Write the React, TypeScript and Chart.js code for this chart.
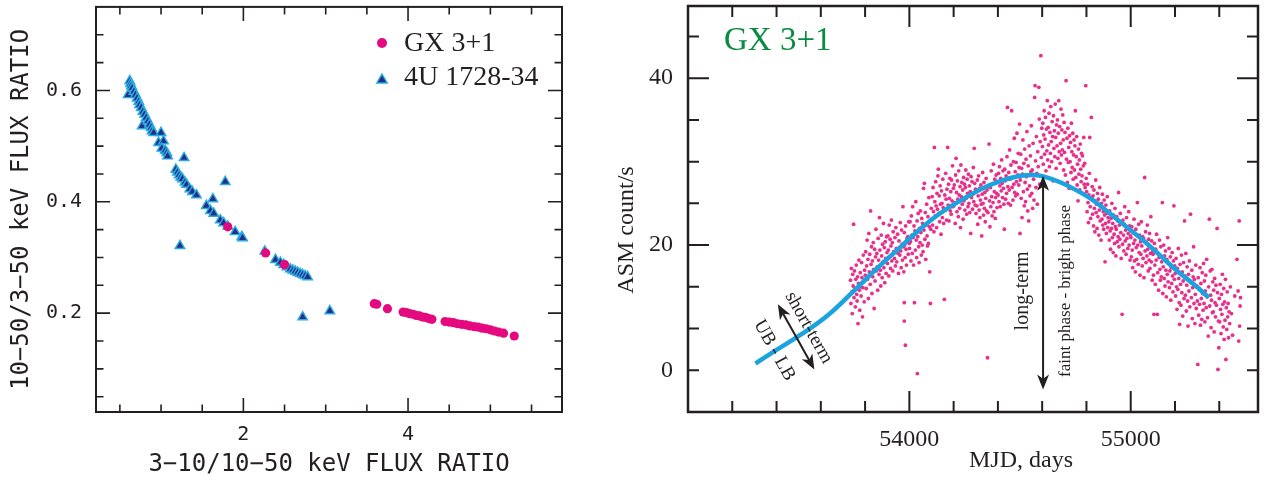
import React, { useEffect, useRef } from 'react';
import { Chart, registerables } from 'chart.js';

Chart.register(...registerables);

const INK = '#231f20';
const MONO = '"DejaVu Sans Mono", "Liberation Mono", monospace';
const SERIF = '"Liberation Serif", "DejaVu Serif", serif';
const GX_PINK = '#e5097f';
const NAVY = '#262f87';
const CYAN = '#29abe2';
const ASM_PINK = '#e8308a';
const TREND_BLUE = '#1ba3df';
const TITLE_GREEN = '#0b8a42';

// ---------------- Left panel: colour-colour ratios ----------------
const gx31Ratios: [number, number][] = [
  [1.81, 0.355], [2.27, 0.308], [2.5, 0.287], [3.59, 0.217], [3.62, 0.216], [3.75, 0.208],
  [3.94, 0.202], [3.98, 0.201], [4.02, 0.199], [4.06, 0.198], [4.1, 0.196], [4.14, 0.195],
  [4.18, 0.193], [4.22, 0.192], [4.26, 0.19], [4.29, 0.189], [4.45, 0.185], [4.5, 0.184],
  [4.55, 0.183], [4.6, 0.181], [4.65, 0.18], [4.7, 0.179], [4.75, 0.177], [4.8, 0.176],
  [4.85, 0.175], [4.9, 0.173], [4.95, 0.172], [5.0, 0.17], [5.05, 0.168], [5.1, 0.166],
  [5.16, 0.164], [5.29, 0.159],
];

const u1728Ratios: [number, number][] = [
  [0.6, 0.592], [0.62, 0.617], [0.63, 0.612], [0.64, 0.608], [0.65, 0.604], [0.67, 0.598],
  [0.69, 0.592], [0.71, 0.586], [0.73, 0.58], [0.74, 0.574], [0.76, 0.569], [0.78, 0.562],
  [0.8, 0.557], [0.77, 0.536], [0.82, 0.551], [0.84, 0.545], [0.86, 0.539], [0.88, 0.533],
  [0.89, 0.527], [0.91, 0.524], [1.0, 0.524], [0.97, 0.506], [1.03, 0.509], [1.01, 0.496],
  [1.05, 0.492], [1.07, 0.488], [1.08, 0.482], [1.28, 0.479], [1.18, 0.458], [1.2, 0.453],
  [1.22, 0.448], [1.24, 0.444], [1.26, 0.441], [1.29, 0.435], [1.31, 0.431], [1.35, 0.423],
  [1.38, 0.418], [1.43, 0.412], [1.78, 0.436], [1.63, 0.405], [1.55, 0.393], [1.6, 0.384],
  [1.64, 0.379], [1.72, 0.367], [1.76, 0.362], [1.81, 0.356], [1.9, 0.346], [1.98, 0.337],
  [1.99, 0.335], [1.23, 0.321], [2.26, 0.311], [2.39, 0.296], [2.45, 0.291], [2.49, 0.287],
  [2.53, 0.283], [2.57, 0.279], [2.6, 0.277], [2.63, 0.275], [2.66, 0.273], [2.69, 0.271],
  [2.72, 0.269], [2.75, 0.267], [2.78, 0.265], [2.72, 0.193], [3.05, 0.204],
];

const leftLegend = ['GX 3+1', '4U 1728-34'];
const leftXTitle = '3\u221210/10\u221250 keV FLUX RATIO';
const leftYTitle = '10\u221250/3\u221250 keV FLUX RATIO';
const leftXTickValues = [2, 4];
const leftXTickText = ['2', '4'];
const leftYTickValues = [0.2, 0.4, 0.6];
const leftYTickText = ['0.2', '0.4', '0.6'];
const leftXMarks = [0.5, 1, 1.5, 2, 2.5, 3, 3.5, 4, 4.5, 5, 5.5];
const leftXMajor = [2, 4];
const leftYMarks = [0.05, 0.1, 0.15, 0.2, 0.25, 0.3, 0.35, 0.4, 0.45, 0.5, 0.55, 0.6, 0.65, 0.7];
const leftYMajor = [0.2, 0.4, 0.6];

// ---------------- Right panel: RXTE/ASM light curve ----------------
const asmRise: [number, number][] = [
  [53734, 15.8], [53736, 13.0], [53738, 17.2], [53740, 14.4], [53742, 11.8], [53744, 16.5], [53746, 15.1], [53748, 22.5],
  [53750, 13.7], [53752, 16.9], [53754, 14.8], [53756, 12.6], [53758, 15.9], [53760, 17.6], [53762, 14.1], [53764, 13.3],
  [53766, 16.2], [53768, 10.6], [53770, 15.4], [53772, 18.2], [53774, 14.6], [53776, 12.2], [53778, 16.7], [53780, 15.0],
  [53782, 13.9], [53784, 17.9], [53786, 16.1], [53788, 11.4], [53790, 14.9], [53792, 18.8], [53794, 15.6], [53796, 13.2],
  [53798, 17.0],
  [53801, 16.4], [53803, 19.2], [53805, 14.8], [53807, 17.5], [53809, 20.6], [53811, 15.9], [53813, 18.3], [53815, 13.6],
  [53817, 21.4], [53819, 16.8], [53821, 18.9], [53823, 15.3], [53825, 24.1], [53827, 17.7], [53829, 19.8], [53831, 14.2],
  [53833, 18.1], [53835, 16.2], [53837, 20.3], [53839, 17.1], [53841, 12.4], [53843, 19.5], [53845, 15.7], [53847, 18.6],
  [53849, 21.9], [53851, 16.9], [53853, 19.0], [53855, 17.4], [53857, 14.6], [53859, 20.8], [53861, 18.2], [53863, 16.5],
  [53865, 23.3], [53867, 19.4], [53869, 17.0], [53871, 15.1], [53873, 21.2], [53875, 18.7], [53877, 16.1], [53879, 20.1],
  [53881, 18.0], [53883, 22.6], [53885, 17.3], [53887, 19.7], [53889, 15.5], [53891, 20.4], [53893, 18.4], [53895, 16.6],
  [53897, 21.0], [53899, 19.1],
  [53901, 17.8], [53903, 21.1], [53905, 19.4], [53907, 16.3], [53909, 22.4], [53911, 18.6], [53913, 20.7], [53915, 17.2],
  [53917, 19.9], [53919, 23.0], [53921, 18.1], [53923, 20.3], [53925, 16.9], [53927, 21.6], [53929, 19.2], [53977, 13.1],
  [53933, 18.4], [53935, 20.9], [53937, 17.5], [53939, 22.1], [53941, 19.6], [53943, 18.0], [53977, 10.9], [53947, 21.3],
  [53949, 19.0], [53951, 16.6], [53953, 20.5], [53982, 8.0], [53957, 18.8], [53959, 22.7], [53961, 19.3], [53963, 17.3],
  [53965, 21.8], [53967, 20.1], [53969, 18.2], [53971, 24.6], [53973, 19.8], [53975, 16.8], [53977, 21.5], [53979, 20.0],
  [53981, 18.5], [53983, 22.3], [53985, 19.5], [53987, 17.6], [53989, 20.8], [53993, 21.0], [53995, 18.9], [53997, 22.8],
  [53999, 20.2],
  [54001, 19.6], [54003, 22.8], [54005, 20.4], [54007, 18.1], [54009, 23.5], [54011, 21.2], [54013, 19.0], [54015, 24.6],
  [54017, 20.9], [54019, 17.6], [54021, 22.3], [54023, 13.1], [54025, 21.7], [54027, 19.4], [54029, 25.2], [54031, 20.6],
  [54033, 18.5], [54035, 22.9], [54036, 4.6], [54038, 21.0], [54040, 23.8], [54042, 19.8], [54044, 17.9], [54046, 22.0],
  [54048, 20.3], [54050, 24.1], [54052, 21.5], [54054, 18.8], [54056, 23.2], [54058, 20.0], [54060, 22.6], [54062, 19.2],
  [54064, 26.8], [54066, 21.8], [54068, 27.4], [54070, 20.7], [54072, 23.9], [54074, 18.3], [54076, 22.4], [54078, 24.9],
  [54080, 21.1], [54082, 19.9], [54084, 23.4], [54086, 20.2], [54088, 25.7], [54090, 22.2], [54092, 16.8], [54095, 13.0],
  [54097, 21.9], [54099, 24.4],
  [54101, 23.1], [54103, 25.8], [54105, 22.4], [54107, 26.9], [54109, 24.0], [54111, 21.6], [54113, 31.7], [54115, 25.2],
  [54117, 23.5], [54119, 27.6], [54121, 24.7], [54123, 22.1], [54125, 26.2], [54127, 24.3], [54129, 28.3], [54131, 29.1],
  [54133, 23.8], [54135, 25.9], [54137, 22.8], [54139, 27.1], [54141, 24.9], [54143, 21.3], [54145, 26.5], [54147, 25.0],
  [54149, 23.3], [54151, 27.9], [54153, 24.5], [54155, 22.6], [54158, 13.5], [54160, 26.0], [54162, 24.2], [54164, 28.6],
  [54166, 25.5], [54168, 23.0], [54170, 26.7], [54173, 31.7], [54175, 24.8], [54177, 27.3], [54179, 22.9], [54181, 25.6],
  [54183, 28.0], [54185, 24.1], [54187, 26.4], [54189, 23.7], [54191, 27.8], [54193, 25.3], [54195, 29.5], [54197, 24.6],
  [54199, 26.8],
];

const asmPeak: [number, number][] = [
  [54201, 24.7], [54203, 27.2], [54205, 25.1], [54207, 22.6], [54209, 28.4], [54211, 30.4], [54213, 26.3], [54215, 24.0],
  [54217, 27.7], [54219, 25.5], [54221, 23.4], [54223, 28.9], [54225, 26.0], [54227, 24.4], [54229, 27.0], [54231, 22.1],
  [54233, 29.6], [54235, 25.8], [54237, 27.5], [54239, 24.9], [54241, 26.6], [54243, 23.1], [54245, 28.1], [54247, 25.3],
  [54249, 27.3], [54251, 24.2], [54253, 26.9], [54255, 29.0], [54257, 25.6], [54259, 23.7], [54261, 27.9], [54263, 26.2],
  [54265, 24.6], [54267, 28.5], [54269, 25.0], [54271, 27.1], [54273, 23.9], [54275, 26.4], [54277, 21.4], [54279, 28.2],
  [54281, 25.7], [54283, 27.6], [54285, 24.3], [54287, 26.1], [54289, 29.3], [54291, 25.2], [54293, 31.6], [54295, 27.4],
  [54297, 24.8], [54299, 26.7],
  [54301, 23.8], [54303, 26.5], [54305, 24.7], [54307, 27.8], [54309, 22.5], [54311, 25.9], [54313, 28.3], [54315, 24.2],
  [54317, 26.8], [54319, 23.3], [54321, 25.4], [54323, 27.2], [54325, 24.9], [54327, 21.1], [54329, 26.1], [54331, 28.7],
  [54333, 25.0], [54335, 23.6], [54337, 27.5], [54339, 24.4], [54341, 26.3], [54343, 22.8], [54345, 25.6], [54347, 28.0],
  [54349, 24.1], [54351, 26.6], [54353, 6.5], [54355, 23.9], [54357, 27.0], [54360, 32.1], [54362, 25.3], [54364, 22.2],
  [54366, 26.9], [54368, 24.6], [54370, 28.9], [54372, 25.8], [54374, 23.5], [54376, 27.3], [54378, 25.1], [54380, 29.7],
  [54382, 24.0], [54384, 26.4], [54386, 27.9], [54388, 23.2], [54390, 25.7], [54392, 28.4], [54394, 26.2], [54396, 24.5],
  [54398, 27.6],
  [54401, 26.0], [54403, 28.6], [54405, 25.2], [54407, 29.4], [54409, 27.1], [54411, 24.6], [54413, 28.0], [54415, 26.5],
  [54417, 30.2], [54419, 27.4], [54421, 25.7], [54423, 28.9], [54425, 26.8], [54427, 24.9], [54429, 21.9], [54431, 29.1],
  [54433, 27.7], [54435, 25.5], [54437, 28.3], [54439, 26.2], [54441, 30.6], [54443, 36.5], [54445, 27.0], [54447, 25.0],
  [54449, 28.7], [54451, 26.6], [54453, 31.4], [54455, 27.9], [54457, 24.8], [54459, 29.6], [54462, 36.1], [54464, 26.9],
  [54466, 28.1], [54468, 25.4], [54470, 30.0], [54472, 27.3], [54474, 32.8], [54476, 26.3], [54478, 28.8], [54480, 25.9],
  [54482, 29.9], [54484, 27.6], [54486, 33.4], [54488, 26.1], [54490, 28.4], [54492, 31.0], [54494, 27.2], [54496, 29.3],
  [54498, 34.5], [54500, 21.4],
  [54501, 27.8], [54503, 30.9], [54505, 25.6], [54507, 29.2], [54509, 23.3], [54511, 28.5], [54513, 32.6], [54515, 26.4],
  [54517, 29.8], [54519, 24.7], [54521, 31.5], [54523, 27.5], [54525, 25.2], [54527, 30.3], [54529, 28.2], [54531, 33.6],
  [54533, 26.7], [54535, 24.1], [54537, 29.5], [54539, 22.9], [54541, 31.9], [54543, 27.1], [54545, 25.9], [54547, 30.7],
  [54549, 28.8], [54551, 34.3], [54553, 26.2], [54555, 29.0], [54557, 24.4], [54559, 32.2], [54561, 27.9], [54563, 25.4],
  [54566, 37.7], [54568, 39.1], [54570, 30.1], [54572, 26.9], [54574, 33.0], [54576, 28.6], [54578, 24.9], [54580, 31.2],
  [54582, 29.4], [54585, 38.9], [54587, 35.1], [54589, 27.3], [54591, 32.4], [54594, 42.7], [54596, 30.5], [54598, 34.0],
  [54601, 31.8], [54603, 34.6], [54605, 29.7], [54607, 33.2], [54609, 36.1], [54611, 30.9], [54613, 32.7], [54615, 35.3],
  [54617, 28.9], [54619, 33.9], [54621, 31.3], [54623, 37.3], [54625, 30.2], [54627, 34.1], [54629, 32.0], [54631, 35.8],
  [54633, 29.4], [54635, 33.5], [54637, 31.0], [54639, 36.6], [54641, 32.4], [54643, 30.0], [54645, 34.8], [54647, 33.0],
  [54649, 27.7], [54651, 35.5], [54653, 31.6], [54655, 33.7], [54657, 30.6], [54659, 36.9], [54661, 32.9], [54663, 29.2],
  [54665, 34.4], [54667, 31.9], [54669, 35.0], [54671, 30.4], [54673, 33.4], [54675, 37.3], [54677, 31.2], [54679, 34.2],
  [54681, 29.8], [54683, 32.2], [54685, 36.3], [54687, 30.8], [54689, 33.8], [54691, 31.4], [54693, 35.6], [54695, 32.6],
  [54697, 29.0], [54699, 34.7],
  [54701, 31.1], [54703, 33.5], [54705, 28.4], [54708, 39.7], [54710, 30.3], [54712, 32.8], [54714, 27.5], [54716, 34.0],
  [54718, 29.9], [54720, 31.7], [54722, 26.8], [54724, 33.1], [54726, 30.0], [54728, 32.3], [54730, 28.7], [54732, 34.6],
  [54734, 31.2], [54736, 29.3], [54738, 33.4], [54740, 27.9], [54742, 30.8], [54744, 32.6], [54746, 29.0], [54748, 31.9],
  [54750, 36.1], [54752, 28.1], [54754, 30.6], [54756, 33.0], [54758, 27.2], [54760, 29.7], [54762, 25.3], [54764, 31.5],
  [54766, 28.5], [54768, 30.2], [54770, 26.6], [54772, 32.1], [54774, 29.1], [54776, 27.6], [54778, 31.0], [54780, 28.3],
  [54782, 30.7], [54784, 26.2], [54786, 29.5], [54788, 32.9], [54790, 27.3], [54792, 29.8], [54794, 26.9], [54797, 39.1],
  [54799, 28.0],
];

const asmDecline: [number, number][] = [
  [54801, 26.4], [54803, 24.0], [54805, 27.3], [54807, 25.1], [54809, 22.7], [54811, 26.0], [54813, 28.6], [54815, 32.9],
  [54817, 24.6], [54819, 23.2], [54822, 35.3], [54824, 25.7], [54826, 27.0], [54828, 23.7], [54830, 25.9], [54832, 22.3],
  [54834, 26.6], [54836, 24.4], [54838, 21.6], [54840, 25.3], [54842, 27.8], [54844, 23.9], [54846, 24.9], [54848, 22.0],
  [54850, 26.2], [54852, 23.4], [54854, 25.5], [54856, 21.2], [54858, 24.2], [54860, 26.9], [54862, 22.9], [54864, 24.7],
  [54866, 20.6], [54868, 25.0], [54870, 23.1], [54872, 26.1], [54874, 22.4], [54876, 24.0], [54878, 21.9], [54880, 25.4],
  [54882, 23.6], [54884, 18.0], [54886, 22.6], [54888, 24.8], [54890, 21.4], [54892, 23.8], [54894, 25.8], [54896, 22.1],
  [54898, 23.3],
  [54901, 22.8], [54903, 20.6], [54905, 24.1], [54907, 21.7], [54909, 19.5], [54911, 23.2], [54913, 22.0], [54915, 25.0],
  [54917, 20.9], [54919, 22.6], [54921, 19.1], [54923, 23.6], [54925, 21.3], [54927, 20.2], [54929, 24.4], [54931, 22.2],
  [54933, 18.7], [54935, 21.9], [54937, 23.4], [54939, 20.4], [54941, 22.9], [54943, 21.0], [54945, 26.3], [54947, 19.8],
  [54949, 22.4], [54951, 20.7], [54953, 23.8], [54955, 21.5], [54957, 18.4], [54959, 22.7], [54961, 11.7], [54963, 20.1],
  [54965, 23.0], [54967, 21.2], [54969, 19.3], [54971, 22.5], [54973, 24.6], [54975, 20.5], [54977, 21.8], [54979, 18.9],
  [54981, 23.3], [54983, 20.8], [54985, 22.1], [54987, 19.6], [54989, 21.4], [54991, 24.0], [54993, 20.0], [54995, 22.3],
  [54997, 18.2], [54999, 21.1],
  [55001, 20.9], [55003, 18.6], [55005, 22.2], [55007, 19.4], [55009, 17.3], [55011, 21.5], [55013, 20.2], [55015, 23.1],
  [55017, 18.1], [55019, 20.6], [55021, 16.8], [55023, 21.9], [55025, 19.7], [55027, 18.3], [55030, 25.1], [55032, 20.0],
  [55034, 17.7], [55036, 22.5], [55038, 19.1], [55040, 21.2], [55042, 16.4], [55044, 20.4], [55046, 18.9], [55048, 22.8],
  [55050, 19.9], [55052, 17.5], [55054, 21.0], [55056, 18.4], [55058, 20.8], [55060, 16.1], [55063, 28.1], [55065, 19.3],
  [55067, 21.6], [55069, 17.9], [55071, 20.3], [55073, 18.7], [55075, 22.4], [55077, 19.5], [55079, 16.9], [55081, 20.7],
  [55083, 18.2], [55085, 21.4], [55087, 17.2], [55089, 19.0], [55091, 23.4], [55093, 18.0], [55095, 20.5], [55097, 15.8],
  [55099, 19.2],
  [55101, 18.9], [55103, 16.4], [55105, 11.7], [55107, 20.2], [55109, 17.6], [55111, 15.3], [55113, 19.5], [55115, 18.2],
  [55117, 21.3], [55120, 11.7], [55122, 16.7], [55124, 19.0], [55126, 14.6], [55128, 18.5], [55130, 20.6], [55132, 17.1],
  [55134, 15.8], [55136, 19.8], [55138, 16.2], [55140, 18.0], [55143, 25.1], [55145, 14.2], [55147, 17.4], [55149, 20.0],
  [55151, 16.0], [55153, 18.7], [55155, 15.1], [55157, 19.3], [55159, 17.0], [55161, 13.8], [55163, 18.3], [55165, 16.5],
  [55167, 20.9], [55169, 15.6], [55171, 17.8], [55173, 19.6], [55175, 14.9], [55177, 16.9], [55179, 18.6], [55181, 13.4],
  [55183, 17.3], [55185, 15.4], [55187, 19.1], [55189, 16.3], [55191, 14.4], [55193, 18.1], [55195, 24.7], [55197, 15.9],
  [55199, 17.5],
  [55201, 16.6], [55203, 13.9], [55205, 18.4], [55207, 15.0], [55209, 12.3], [55211, 17.2], [55213, 14.7], [55215, 19.6],
  [55217, 16.0], [55219, 13.1], [55221, 10.5], [55223, 17.7], [55225, 15.3], [55227, 12.8], [55229, 18.8], [55231, 14.3],
  [55233, 16.8], [55235, 11.5], [55237, 15.7], [55239, 17.9], [55241, 13.6], [55243, 22.9], [55245, 16.3], [55247, 14.0],
  [55249, 19.0], [55251, 12.1], [55253, 15.2], [55255, 17.4], [55257, 13.3], [55259, 10.3], [55261, 16.5], [55263, 14.5],
  [55265, 18.1], [55267, 12.6], [55270, 23.7], [55272, 15.5], [55274, 13.7], [55276, 17.0], [55278, 11.2], [55280, 14.9],
  [55282, 16.2], [55284, 19.8], [55286, 13.0], [55288, 15.9], [55290, 10.6], [55292, 14.1], [55294, 17.6], [55296, 12.4],
  [55298, 15.1],
  [55301, 13.3], [55303, 5.7], [55305, 16.1], [55307, 11.6], [55309, 14.8], [55311, 12.9], [55313, 17.3], [55315, 10.4],
  [55317, 15.4], [55319, 13.6], [55321, 11.1], [55323, 16.7], [55325, 14.2], [55327, 12.2], [55329, 17.8], [55331, 13.0],
  [55333, 15.7], [55335, 10.8], [55337, 14.5], [55339, 16.4], [55341, 12.5], [55343, 18.3], [55345, 13.8], [55347, 11.3],
  [55350, 9.1], [55352, 15.0], [55355, 23.1], [55357, 12.7], [55359, 16.9], [55361, 14.0], [55363, 10.1], [55365, 13.4],
  [55367, 17.1], [55369, 11.9], [55371, 15.6], [55373, 12.0], [55375, 14.6], [55377, 9.6], [55379, 16.0], [55381, 13.1],
  [55383, 11.4], [55385, 15.2], [55387, 12.8], [55390, 22.0], [55392, 14.3], [55394, 5.1], [55396, 10.9], [55398, 7.7],
  [55400, 13.6], [55402, 10.8], [55404, 15.3], [55406, 12.3], [55408, 9.4], [55410, 14.1], [55412, 11.7], [55414, 16.5],
  [55416, 12.9], [55418, 10.2], [55420, 14.8], [55422, 8.7], [55424, 13.2], [55426, 11.0], [55428, 15.9], [55430, 6.3],
  [55432, 12.5], [55434, 9.9], [55436, 14.4], [55438, 11.4], [55440, 13.0], [55442, 8.9], [55444, 12.0], [55447, 10.6],
  [55450, 15.0], [55455, 11.8], [55460, 9.2], [55470, 13.9], [55480, 18.3], [55485, 14.5], [55488, 8.5], [55490, 22.9],
  [55492, 10.3], [55494, 12.7], [55496, 13.7],
];

const asmTrend: [number, number][] = [
  [53305, 5.8], [53391, 7.3], [53511, 9.3], [53632, 11.6], [53745, 14.4], [53842, 16.9], [53932, 19.1],
  [54023, 21.3], [54113, 23.3], [54203, 24.9], [54323, 26.7], [54414, 27.7], [54504, 28.3], [54564, 28.4],
  [54609, 28.2], [54684, 27.5], [54760, 26.5], [54834, 25.3], [54910, 23.7], [54985, 22.1], [55060, 20.5],
  [55135, 18.7], [55210, 16.9], [55285, 15.3], [55353, 13.7],
];

const rightTitle = 'GX 3+1';
const rightXTitle = 'MJD, days';
const rightYTitle = 'ASM count/s';
const rightXTickValues = [54000, 55000];
const rightXTickText = ['54000', '55000'];
const rightYTickValues = [5, 20, 40];
const rightYTickText = ['0', '20', '40'];
const rightXMarks = [53200, 53400, 53600, 53800, 54000, 54200, 54400, 54600, 54800, 55000, 55200, 55400];
const rightXMajor = [54000, 55000];
const rightYMarks = [5, 10, 15, 20, 25, 30, 35, 40, 45];
const rightYMajor = [20, 40];

// annotation anchors in data units (MJD, count rate)
const shortTermArrow = { from: [53406, 12.9], to: [53571, 5.1] };
const shortTermLabel = { text: 'short-term', at: [53545, 10.1] };
const branchLabel = { text: 'UB - LB', at: [53390, 7.4] };
const longTermArrow = { x: 54604, top: 28.3, bottom: 2.7 };
const longTermLabel = { text: 'long-term', at: [54510, 14.5] };
const phaseLabel = { text: 'faint phase - bright phase', at: [54705, 14.5] };

function drawFrameAndTicks(
  chart: any,
  xMarks: number[], xMajor: number[], yMarks: number[], yMajor: number[],
  major: number, minor: number, tickWidth: number, frameWidth: number,
) {
  const { ctx, chartArea: a, scales } = chart;
  ctx.save();
  ctx.strokeStyle = INK;
  ctx.lineWidth = tickWidth;
  ctx.beginPath();
  for (const v of xMarks) {
    const p = scales.x.getPixelForValue(v);
    const len = xMajor.includes(v) ? major : minor;
    ctx.moveTo(p, a.bottom); ctx.lineTo(p, a.bottom - len);
    ctx.moveTo(p, a.top); ctx.lineTo(p, a.top + len);
  }
  for (const v of yMarks) {
    const p = scales.y.getPixelForValue(v);
    const len = yMajor.includes(v) ? major : minor;
    ctx.moveTo(a.left, p); ctx.lineTo(a.left + len, p);
    ctx.moveTo(a.right, p); ctx.lineTo(a.right - len, p);
  }
  ctx.stroke();
  ctx.lineWidth = frameWidth;
  ctx.strokeRect(a.left, a.top, a.right - a.left, a.bottom - a.top);
  ctx.restore();
}

function triPath(ctx: CanvasRenderingContext2D, x: number, y: number, r: number) {
  ctx.beginPath();
  let rad = 0;
  ctx.moveTo(x + Math.sin(rad) * r, y - Math.cos(rad) * r);
  rad += (2 * Math.PI) / 3;
  ctx.lineTo(x + Math.sin(rad) * r, y - Math.cos(rad) * r);
  rad += (2 * Math.PI) / 3;
  ctx.lineTo(x + Math.sin(rad) * r, y - Math.cos(rad) * r);
  ctx.closePath();
}

function arrowHead(ctx: CanvasRenderingContext2D, x: number, y: number, ang: number, len: number, hw: number) {
  const c = Math.cos(ang), s = Math.sin(ang);
  ctx.beginPath();
  ctx.moveTo(x, y);
  ctx.lineTo(x - len * c + hw * s, y - len * s - hw * c);
  ctx.lineTo(x - len * 0.72 * c, y - len * 0.72 * s);
  ctx.lineTo(x - len * c - hw * s, y - len * s + hw * c);
  ctx.closePath();
  ctx.fill();
}

function doubleArrow(ctx: CanvasRenderingContext2D, x1: number, y1: number, x2: number, y2: number) {
  const ang = Math.atan2(y2 - y1, x2 - x1);
  const c = Math.cos(ang), s = Math.sin(ang);
  const len = 15, hw = 6;
  ctx.beginPath();
  ctx.moveTo(x1 + c * len * 0.7, y1 + s * len * 0.7);
  ctx.lineTo(x2 - c * len * 0.7, y2 - s * len * 0.7);
  ctx.stroke();
  arrowHead(ctx, x2, y2, ang, len, hw);
  arrowHead(ctx, x1, y1, ang + Math.PI, len, hw);
}

function rotatedText(ctx: CanvasRenderingContext2D, text: string, x: number, y: number, ang: number, font: string) {
  ctx.save();
  ctx.translate(x, y);
  ctx.rotate(ang);
  ctx.font = font;
  ctx.textAlign = 'center';
  ctx.textBaseline = 'middle';
  ctx.fillText(text, 0, 0);
  ctx.restore();
}

const leftDecor = {
  id: 'leftDecor',
  afterDatasetsDraw(chart: any) {
    drawFrameAndTicks(chart, leftXMarks, leftXMajor, leftYMarks, leftYMajor, 14, 7.5, 1.6, 2);
    const { ctx, chartArea: a } = chart;
    ctx.save();
    const mx = a.left + 286;
    ctx.fillStyle = GX_PINK;
    ctx.beginPath();
    ctx.arc(mx, 43, 5, 0, Math.PI * 2);
    ctx.fill();
    triPath(ctx, mx, 80, 6);
    ctx.fillStyle = NAVY;
    ctx.fill();
    ctx.strokeStyle = CYAN;
    ctx.lineWidth = 1.4;
    ctx.stroke();
    ctx.fillStyle = INK;
    ctx.font = `28px ${SERIF}`;
    ctx.textAlign = 'left';
    ctx.textBaseline = 'middle';
    ctx.fillText(leftLegend[0], a.left + 308, 44);
    ctx.fillText(leftLegend[1], a.left + 308, 78);
    ctx.restore();
  },
};

const rightDecor = {
  id: 'rightDecor',
  afterDatasetsDraw(chart: any) {
    drawFrameAndTicks(chart, rightXMarks, rightXMajor, rightYMarks, rightYMajor, 21, 11, 2, 2.5);
    const { ctx, chartArea: a, scales } = chart;
    const X = (v: number) => scales.x.getPixelForValue(v);
    const Y = (v: number) => scales.y.getPixelForValue(v);
    ctx.save();
    // panel title
    ctx.fillStyle = TITLE_GREEN;
    ctx.font = `33px ${SERIF}`;
    ctx.textAlign = 'left';
    ctx.textBaseline = 'middle';
    ctx.fillText(rightTitle, a.left + 36, 41);
    // arrows
    ctx.fillStyle = INK;
    ctx.strokeStyle = INK;
    ctx.lineWidth = 2;
    doubleArrow(ctx, X(shortTermArrow.from[0]), Y(shortTermArrow.from[1]), X(shortTermArrow.to[0]), Y(shortTermArrow.to[1]));
    doubleArrow(ctx, X(longTermArrow.x), Y(longTermArrow.top), X(longTermArrow.x), Y(longTermArrow.bottom));
    // labels
    const ang = Math.atan2(Y(shortTermArrow.to[1]) - Y(shortTermArrow.from[1]), X(shortTermArrow.to[0]) - X(shortTermArrow.from[0]));
    rotatedText(ctx, shortTermLabel.text, X(shortTermLabel.at[0]), Y(shortTermLabel.at[1]), ang, `19px ${SERIF}`);
    rotatedText(ctx, branchLabel.text, X(branchLabel.at[0]), Y(branchLabel.at[1]), ang, `19px ${SERIF}`);
    rotatedText(ctx, longTermLabel.text, X(longTermLabel.at[0]), Y(longTermLabel.at[1]), -Math.PI / 2, `20px ${SERIF}`);
    rotatedText(ctx, phaseLabel.text, X(phaseLabel.at[0]), Y(phaseLabel.at[1]), -Math.PI / 2, `17px ${SERIF}`);
    // axis titles
    rotatedText(ctx, rightYTitle, 27, 230, -Math.PI / 2, `24px ${SERIF}`);
    rotatedText(ctx, rightXTitle, 421, 461, 0, `24px ${SERIF}`);
    ctx.restore();
  },
};

function fixY(width: number) {
  return (s: any) => { s.width = width; s.paddingTop = 0; s.paddingBottom = 0; };
}
function fixX(height: number) {
  return (s: any) => { s.height = height; s.paddingLeft = 0; s.paddingRight = 0; };
}

export default function App() {
  const leftRef = useRef<HTMLCanvasElement | null>(null);
  const rightRef = useRef<HTMLCanvasElement | null>(null);

  useEffect(() => {
    if (!leftRef.current || !rightRef.current) return;

    const left = new Chart(leftRef.current, {
      type: 'scatter',
      data: {
        datasets: [
          {
            label: leftLegend[0],
            data: gx31Ratios.map(([x, y]) => ({ x, y })),
            pointStyle: 'circle',
            pointRadius: 4.6,
            backgroundColor: GX_PINK,
            borderColor: GX_PINK,
            borderWidth: 0,
          },
          {
            label: leftLegend[1],
            data: u1728Ratios.map(([x, y]) => ({ x, y })),
            pointStyle: 'triangle',
            pointRadius: 5.5,
            backgroundColor: NAVY,
            borderColor: CYAN,
            borderWidth: 1.4,
          },
        ],
      },
      options: {
        animation: false,
        responsive: false,
        events: [],
        layout: { padding: { top: 6, right: 38, bottom: 0, left: 0 } },
        plugins: { legend: { display: false }, tooltip: { enabled: false } },
        scales: {
          x: {
            type: 'linear',
            min: 0.21,
            max: 5.87,
            grid: { display: false, drawTicks: false },
            border: { display: false },
            afterBuildTicks: (s: any) => { s.ticks = leftXTickValues.map((v) => ({ value: v })); },
            afterFit: fixX(73),
            ticks: {
              padding: 11, color: INK, font: { family: MONO, size: 20 }, maxRotation: 0, autoSkip: false,
              callback: (_v: any, i: number) => leftXTickText[i],
            },
            title: { display: true, text: leftXTitle, color: INK, font: { family: MONO, size: 24 }, padding: { top: 0, bottom: 6 } },
          },
          y: {
            type: 'linear',
            min: 0.0225,
            max: 0.75,
            grid: { display: false, drawTicks: false },
            border: { display: false },
            afterBuildTicks: (s: any) => { s.ticks = leftYTickValues.map((v) => ({ value: v })); },
            afterFit: fixY(96),
            ticks: {
              padding: 14, color: INK, font: { family: MONO, size: 20 }, autoSkip: false,
              callback: (_v: any, i: number) => leftYTickText[i],
            },
            title: { display: true, text: leftYTitle, color: INK, font: { family: MONO, size: 24 }, padding: { top: 7, bottom: 0 } },
          },
        },
      },
      plugins: [leftDecor],
    } as any);

    const right = new Chart(rightRef.current, {
      type: 'scatter',
      data: {
        datasets: [
          {
            label: 'trend',
            data: asmTrend.map(([x, y]) => ({ x, y })),
            showLine: true,
            borderColor: TREND_BLUE,
            borderWidth: 4.5,
            pointRadius: 0,
            tension: 0.4,
            borderCapStyle: 'butt',
          },
          {
            label: 'ASM',
            data: [...asmRise, ...asmPeak, ...asmDecline].map(([x, y]) => ({ x, y })),
            pointStyle: 'circle',
            pointRadius: 1.9,
            backgroundColor: ASM_PINK,
            borderColor: ASM_PINK,
            borderWidth: 0,
          },
        ],
      },
      options: {
        animation: false,
        responsive: false,
        events: [],
        layout: { padding: { top: 6, right: 10, bottom: 0, left: 0 } },
        plugins: { legend: { display: false }, tooltip: { enabled: false } },
        scales: {
          x: {
            type: 'linear',
            min: 53000,
            max: 55575,
            grid: { display: false, drawTicks: false },
            border: { display: false },
            afterBuildTicks: (s: any) => { s.ticks = rightXTickValues.map((v) => ({ value: v })); },
            afterFit: fixX(73),
            ticks: {
              padding: 13, color: INK, font: { family: SERIF, size: 24 }, maxRotation: 0, autoSkip: false,
              callback: (_v: any, i: number) => rightXTickText[i],
            },
          },
          y: {
            type: 'linear',
            min: 0,
            max: 48.65,
            grid: { display: false, drawTicks: false },
            border: { display: false },
            afterBuildTicks: (s: any) => { s.ticks = rightYTickValues.map((v) => ({ value: v })); },
            afterFit: fixY(88),
            ticks: {
              padding: 15, color: INK, font: { family: SERIF, size: 24 }, autoSkip: false,
              callback: (_v: any, i: number) => rightYTickText[i],
            },
          },
        },
      },
      plugins: [rightDecor],
    } as any);

    return () => {
      left.destroy();
      right.destroy();
    };
  }, []);

  return (
    <div style={{ position: 'fixed', left: 0, top: 0, width: 1268, height: 485, background: '#ffffff', overflow: 'hidden' }}>
      <canvas ref={leftRef} width={600} height={485} style={{ position: 'absolute', left: 0, top: 0 }} />
      <canvas ref={rightRef} width={668} height={485} style={{ position: 'absolute', left: 600, top: 0 }} />
    </div>
  );
}
